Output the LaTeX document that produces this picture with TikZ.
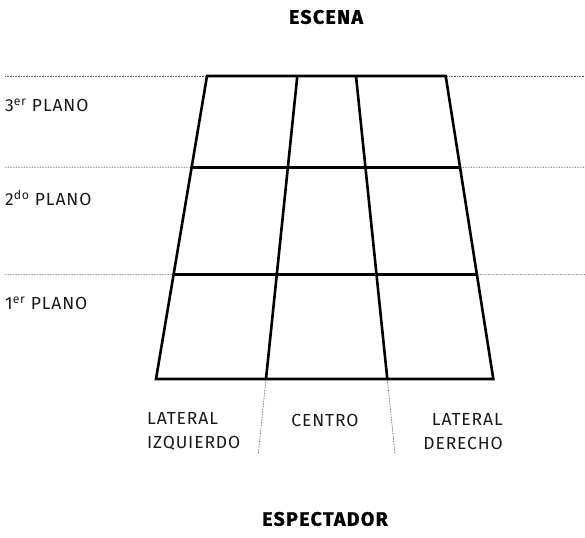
\documentclass[tikz,border=0pt]{standalone}
\usepackage{fontspec}
\setmainfont{Fira Sans}[LetterSpace=5]
\newfontfamily\titlefont{Fira Sans}[LetterSpace=7, BoldFeatures={FakeBold=1.2}]
\usetikzlibrary{calc}
\definecolor{txt}{HTML}{1A1A1A}
\definecolor{dotc}{HTML}{555555}
\tikzset{
  grid line/.style={line width=2.6pt, line join=miter, line cap=butt},
  guide/.style={dotc, line width=0.7pt, dash pattern=on 0.7pt off 0.9pt},
  lbl/.style={inner sep=0pt, text=txt, font=\fontsize{17.5}{24}\selectfont},
  ttl/.style={inner sep=0pt, text=black, font=\titlefont\bfseries\fontsize{19.5}{22}\selectfont},
}
\begin{document}
\begin{tikzpicture}[x=1pt, y=-1pt]
\useasboundingbox (0,0) rectangle (585,537);
% trapezoid corners and inner verticals
\coordinate (lt) at (207,76);   \coordinate (lb) at (156,379);
\coordinate (at) at (297.3,76); \coordinate (ab) at (266,379);
\coordinate (bt) at (356,76);   \coordinate (bb) at (387.3,379);
\coordinate (rt) at (445.7,76); \coordinate (rb) at (493.3,379);
% row points
\coordinate (l1) at ($(lt)!0.301!(lb)$); \coordinate (r1) at ($(rt)!0.301!(rb)$);
\coordinate (l2) at ($(lt)!0.656!(lb)$); \coordinate (r2) at ($(rt)!0.656!(rb)$);
% guide ends
\coordinate (gl0) at (5,76);  \coordinate (gr0) at (585,76);
\coordinate (gl1) at (5,167.3); \coordinate (gr1) at (585,167.3);
\coordinate (gl2) at (5,274.7); \coordinate (gr2) at (585,274.7);
\coordinate (ae) at ($(at)!1.2475!(ab)$);
\coordinate (be) at ($(bt)!1.2475!(bb)$);
% dotted guides
\draw[guide] (gl0) -- (lt); \draw[guide] (rt) -- (gr0);
\draw[guide] (gl1) -- (l1); \draw[guide] (r1) -- (gr1);
\draw[guide] (gl2) -- (l2); \draw[guide] (r2) -- (gr2);
\draw[guide] (ab) -- (ae);
\draw[guide] (bb) -- (be);
% grid
\draw[grid line] (lt) -- (rt) -- (rb) -- (lb) -- cycle;
\draw[grid line] (l1) -- (r1);
\draw[grid line] (l2) -- (r2);
\draw[grid line] (at) -- (ab);
\draw[grid line] (bt) -- (bb);
% labels
\node[ttl] (escena) at (326,17) {ESCENA};
\node[ttl] (espect) at (325,519) {ESPECTADOR};
\node[lbl, anchor=west] (p3) at (5,105) {3\textsuperscript{er} PLANO};
\node[lbl, anchor=west] (p2) at (5,198) {2\textsuperscript{do} PLANO};
\node[lbl, anchor=west] (p1) at (5,303) {1\textsuperscript{er} PLANO};
\node[lbl, anchor=west, align=left] (li) at (147,431.5) {LATERAL\\IZQUIERDO};
\node[lbl] (ce) at (325,420) {CENTRO};
\node[lbl, anchor=east, align=right] (ld) at (503,431.5) {LATERAL\\DERECHO};
\end{tikzpicture}
\end{document}
